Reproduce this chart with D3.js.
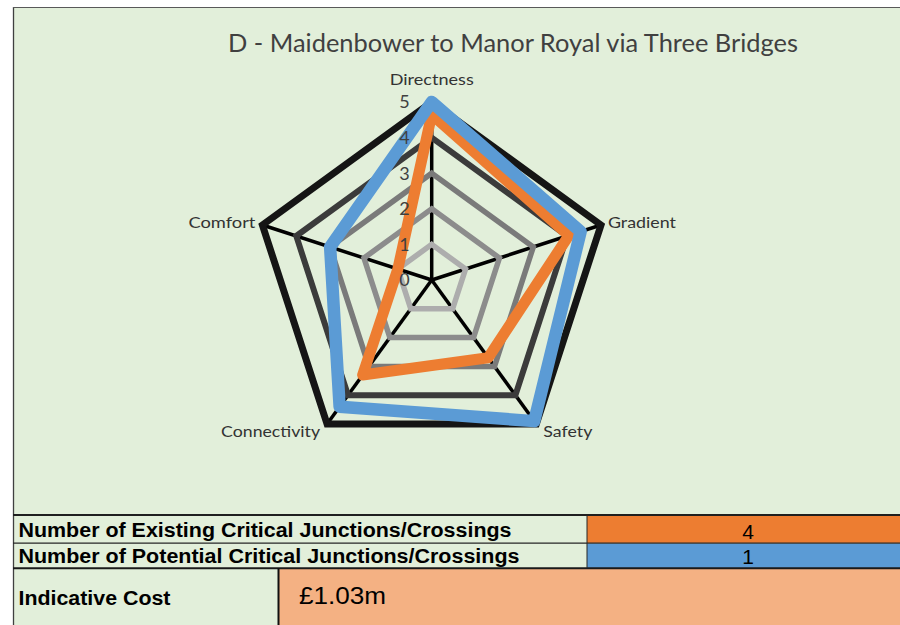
<!DOCTYPE html>
<html>
<head>
<meta charset="utf-8">
<script src="https://cdn.jsdelivr.net/npm/d3@7"></script>
<style>
  html, body { margin: 0; padding: 0; background: #ffffff; }
  svg { display: block; }
</style>
</head>
<body>
<svg id="chart" width="900" height="625"></svg>
<script>
// ---- data ----
const chartTitle = "D - Maidenbower to Manor Royal via Three Bridges";
const categories = ["Directness", "Gradient", "Safety", "Connectivity", "Comfort"];
const existingScores = [4.65, 4.05, 2.7, 3.3, 1.0];
const potentialScores = [5.0, 4.4, 4.9, 4.4, 3.0];
const scoreTicks = [0, 1, 2, 3, 4, 5];
const junctionLabels = ["Number of Existing Critical Junctions/Crossings",
                        "Number of Potential Critical Junctions/Crossings"];
const junctionCounts = [4, 1];
const costLabel = "Indicative Cost";
const costValue = "£1.03m";

// ---- layout & style ----
const W = 900, H = 625;
const cx = 431.7, cy = 280, R = 178;
const bg = "#e2efda";
const orange = "#ed7d31", blue = "#5b9bd5", peach = "#f4b183";
const textDark = "#404040";
const chartFont = "Lato, 'Open Sans', sans-serif";
const tableFont = "'Liberation Sans', Arial, sans-serif";
const gridColors = ["#adadad", "#8c8c8c", "#7a7a7a", "#3b3b3b", "#151515"];
const gridWidths = [5.5, 5.5, 5.5, 6, 7];

const svg = d3.select("#chart");

// sheet background and frame
svg.append("rect").attr("x", 0).attr("y", 0).attr("width", W).attr("height", H).attr("fill", "#ffffff");
svg.append("rect").attr("x", 13).attr("y", 7).attr("width", W - 13).attr("height", H - 7).attr("fill", bg);
svg.append("line").attr("x1", 13.5).attr("x2", 13.5).attr("y1", 7).attr("y2", H)
  .attr("stroke", "#404040").attr("stroke-width", 1.3);
svg.append("line").attr("x1", 13).attr("x2", W).attr("y1", 7.5).attr("y2", 7.5)
  .attr("stroke", "#595959").attr("stroke-width", 1.2);

// title
svg.append("text")
  .attr("x", 228).attr("y", 51.5)
  .attr("font-family", chartFont).attr("font-size", 25.5)
  .attr("fill", textDark)
  .attr("textLength", 570).attr("lengthAdjust", "spacingAndGlyphs")
  .text(chartTitle);

// ---- radar chart ----
const rScale = d3.scaleLinear().domain([0, 5]).range([0, R]);
const angle = d3.scaleLinear().domain([0, categories.length]).range([0, 2 * Math.PI]);

const g = svg.append("g").attr("transform", `translate(${cx},${cy})`);

const radial = d3.lineRadial()
  .angle((d, i) => angle(i))
  .radius(d => rScale(d))
  .curve(d3.curveLinearClosed);

// spokes
g.selectAll("line.spoke")
  .data(categories)
  .join("line")
  .attr("class", "spoke")
  .attr("x1", 0).attr("y1", 0)
  .attr("x2", (d, i) => rScale(5) * Math.sin(angle(i)))
  .attr("y2", (d, i) => -rScale(5) * Math.cos(angle(i)))
  .attr("stroke", "#000000")
  .attr("stroke-width", 3.5);

// ring gridlines for each score level
scoreTicks.filter(t => t > 0).forEach((t, k) => {
  g.append("path")
    .attr("d", radial(categories.map(() => t)))
    .attr("fill", "none")
    .attr("stroke", gridColors[k])
    .attr("stroke-width", gridWidths[k])
    .attr("stroke-linejoin", "miter");
});

// series
const series = [
  { values: existingScores, color: orange, width: 11 },
  { values: potentialScores, color: blue, width: 12.5 }
];
series.forEach(s => {
  g.append("path")
    .attr("d", radial(s.values))
    .attr("fill", "none")
    .attr("stroke", s.color)
    .attr("stroke-width", s.width)
    .attr("stroke-linejoin", "round");
});

// score tick labels along the first axis
g.selectAll("text.tick")
  .data(scoreTicks)
  .join("text")
  .attr("class", "tick")
  .attr("x", -22)
  .attr("y", d => -rScale(d))
  .attr("dy", "0.36em")
  .attr("text-anchor", "end")
  .attr("font-family", chartFont)
  .attr("font-size", 18)
  .attr("fill", textDark)
  .text(d => d);

// category labels
const labelWidths = { Directness: 84, Gradient: 68, Safety: 49, Connectivity: 99, Comfort: 67 };
g.selectAll("text.cat")
  .data(categories)
  .join("text")
  .attr("class", "cat")
  .each(function (d, i) {
    const a = angle(i);
    const px = rScale(5) * Math.sin(a), py = -rScale(5) * Math.cos(a);
    const s = Math.sin(a), c = Math.cos(a);
    const el = d3.select(this);
    if (Math.abs(s) < 0.1) {
      el.attr("x", px).attr("y", py - 23).attr("text-anchor", "middle");
    } else {
      el.attr("x", px + (s > 0 ? 7 : -7))
        .attr("y", py + (c > 0 ? -3 : 7))
        .attr("text-anchor", s > 0 ? "start" : "end");
    }
  })
  .attr("dy", "0.36em")
  .attr("font-family", chartFont)
  .attr("font-size", 16)
  .attr("fill", "#333333")
  .attr("textLength", d => labelWidths[d])
  .attr("lengthAdjust", "spacingAndGlyphs")
  .text(d => d);

// ---- summary table ----
const rowTop = [516, 543.5];
const rowH = [27, 24.5];
const valueX = 587;

rowTop.forEach((y, i) => {
  svg.append("rect")
    .attr("x", valueX).attr("y", y).attr("width", W - valueX).attr("height", rowH[i])
    .attr("fill", i === 0 ? orange : blue);
});

// cost cell
svg.append("rect").attr("x", 278).attr("y", 569).attr("width", W - 278).attr("height", H - 569).attr("fill", peach);

// table rules
svg.append("line").attr("x1", 13).attr("x2", W).attr("y1", 515).attr("y2", 515)
  .attr("stroke", "#1f1f1f").attr("stroke-width", 2);
svg.append("line").attr("x1", 13).attr("x2", W).attr("y1", 543.2).attr("y2", 543.2)
  .attr("stroke", "#262626").attr("stroke-width", 1.2);
svg.append("line").attr("x1", 13).attr("x2", W).attr("y1", 568.3).attr("y2", 568.3)
  .attr("stroke", "#1a1a1a").attr("stroke-width", 2);
svg.append("line").attr("x1", valueX).attr("x2", valueX).attr("y1", 515).attr("y2", 568)
  .attr("stroke", "#262626").attr("stroke-width", 1);
svg.append("line").attr("x1", 278.5).attr("x2", 278.5).attr("y1", 568).attr("y2", H)
  .attr("stroke", "#111111").attr("stroke-width", 2);

// row labels
const labelBaselines = [536.8, 562.6];
const labelLens = [493, 501];
junctionLabels.forEach((t, i) => {
  svg.append("text")
    .attr("x", 18.5).attr("y", labelBaselines[i])
    .attr("font-family", tableFont).attr("font-weight", "bold").attr("font-size", 20)
    .attr("fill", "#000000")
    .attr("textLength", labelLens[i]).attr("lengthAdjust", "spacingAndGlyphs")
    .text(t);
  svg.append("text")
    .attr("x", 748).attr("y", labelBaselines[i] + 1.8)
    .attr("text-anchor", "middle")
    .attr("font-family", tableFont).attr("font-size", 21)
    .attr("fill", "#000000")
    .text(junctionCounts[i]);
});

svg.append("text")
  .attr("x", 18.5).attr("y", 605)
  .attr("font-family", tableFont).attr("font-weight", "bold").attr("font-size", 20)
  .attr("fill", "#000000")
  .attr("textLength", 152).attr("lengthAdjust", "spacingAndGlyphs")
  .text(costLabel);

svg.append("text")
  .attr("x", 299).attr("y", 604)
  .attr("font-family", tableFont).attr("font-size", 24)
  .attr("fill", "#000000")
  .attr("textLength", 87).attr("lengthAdjust", "spacingAndGlyphs")
  .text(costValue);
</script>
</body>
</html>
